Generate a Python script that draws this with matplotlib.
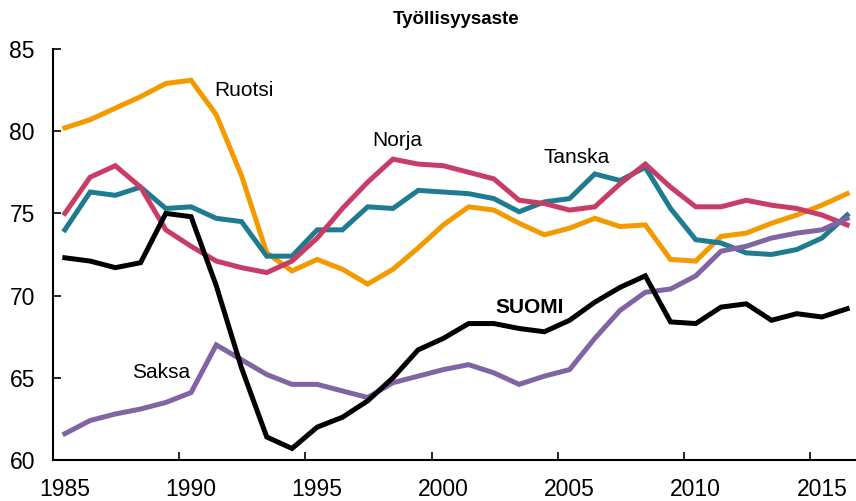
import matplotlib
matplotlib.use('Agg')
import matplotlib.pyplot as plt
import numpy as np

plt.rcParams['font.family'] = ['Liberation Sans', 'DejaVu Sans']

YEARS = np.arange(1985, 2017)
MID_YEAR = 0.47
TICK_YEARS = [1985, 1990, 1995, 2000, 2005, 2010, 2015]

RUOTSI = [80.2, 80.7, 81.4, 82.1, 82.9, 83.1, 81.0, 77.3, 72.6, 71.5, 72.2, 71.6, 70.7,
          71.6, 72.9, 74.3, 75.4, 75.2, 74.4, 73.7, 74.1, 74.7, 74.2, 74.3, 72.2, 72.1,
          73.6, 73.8, 74.4, 74.9, 75.5, 76.2]
NORJA = [75.0, 77.2, 77.9, 76.6, 74.0, 73.0, 72.1, 71.7, 71.4, 72.1, 73.5, 75.3, 76.9,
         78.3, 78.0, 77.9, 77.5, 77.1, 75.8, 75.6, 75.2, 75.4, 76.8, 78.0, 76.6, 75.4,
         75.4, 75.8, 75.5, 75.3, 74.9, 74.3]
TANSKA = [74.0, 76.3, 76.1, 76.6, 75.3, 75.4, 74.7, 74.5, 72.4, 72.4, 74.0, 74.0, 75.4,
          75.3, 76.4, 76.3, 76.2, 75.9, 75.1, 75.7, 75.9, 77.4, 77.0, 77.8, 75.3, 73.4,
          73.2, 72.6, 72.5, 72.8, 73.5, 74.9]
SUOMI = [72.3, 72.1, 71.7, 72.0, 75.0, 74.8, 70.6, 65.6, 61.4, 60.7, 62.0, 62.6, 63.6,
         65.0, 66.7, 67.4, 68.3, 68.3, 68.0, 67.8, 68.5, 69.6, 70.5, 71.2, 68.4, 68.3,
         69.3, 69.5, 68.5, 68.9, 68.7, 69.2]
SAKSA = [61.6, 62.4, 62.8, 63.1, 63.5, 64.1, 67.0, 66.1, 65.2, 64.6, 64.6, 64.2, 63.8,
         64.7, 65.1, 65.5, 65.8, 65.3, 64.6, 65.1, 65.5, 67.4, 69.1, 70.2, 70.4, 71.2,
         72.7, 73.0, 73.5, 73.8, 74.0, 74.7]

SERIES = [
    ('Ruotsi', RUOTSI, '#f39a00'),
    ('Tanska', TANSKA, '#1f7b8f'),
    ('Norja', NORJA, '#c83c66'),
    ('Saksa', SAKSA, '#8164a3'),
    ('SUOMI', SUOMI, '#000000'),
]

LABELS = [
    ('Ruotsi', 1991.4, 82.5, 'normal'),
    ('Norja', 1997.65, 79.45, 'normal'),
    ('Tanska', 2004.45, 78.4, 'normal'),
    ('SUOMI', 2002.55, 69.25, 'bold'),
    ('Saksa', 1988.15, 65.3, 'normal'),
]

fig = plt.figure(figsize=(8.56, 5.01), dpi=100)
ax = fig.add_axes([53 / 856, 41 / 501, 803 / 856, 411 / 501])

x = YEARS + MID_YEAR
for name, values, color in SERIES:
    ax.plot(x, values, color=color, linewidth=3.6, solid_joinstyle='miter', zorder=3)

for text, tx, ty, weight in LABELS:
    ax.text(tx, ty, text, fontsize=15, fontweight=weight, ha='left', va='center')

ax.set_xlim(1985, 2016.82)
ax.set_ylim(60, 85)

# tick marks at the start of the year, labels centred on the year
ax.set_xticks(TICK_YEARS)
ax.set_xticklabels([])
ax.set_xticks([t + MID_YEAR for t in TICK_YEARS], minor=True)
ax.set_xticklabels([str(t) for t in TICK_YEARS], minor=True)
ax.set_yticks(range(60, 86, 5))

for side in ['top', 'right']:
    ax.spines[side].set_visible(False)
for side in ['left', 'bottom']:
    ax.spines[side].set_linewidth(1.5)

ax.tick_params(axis='both', which='major', direction='in', length=6, width=1.2, labelsize=16.5)
ax.tick_params(axis='x', which='minor', length=0, labelsize=16.5, pad=13)
ax.tick_params(axis='y', pad=13)

fig.text(456 / 856, 1 - 19 / 501, 'Työllisyysaste', fontsize=13.5, fontweight='bold',
         ha='center', va='center')

fig.savefig('out.png', dpi=100)
